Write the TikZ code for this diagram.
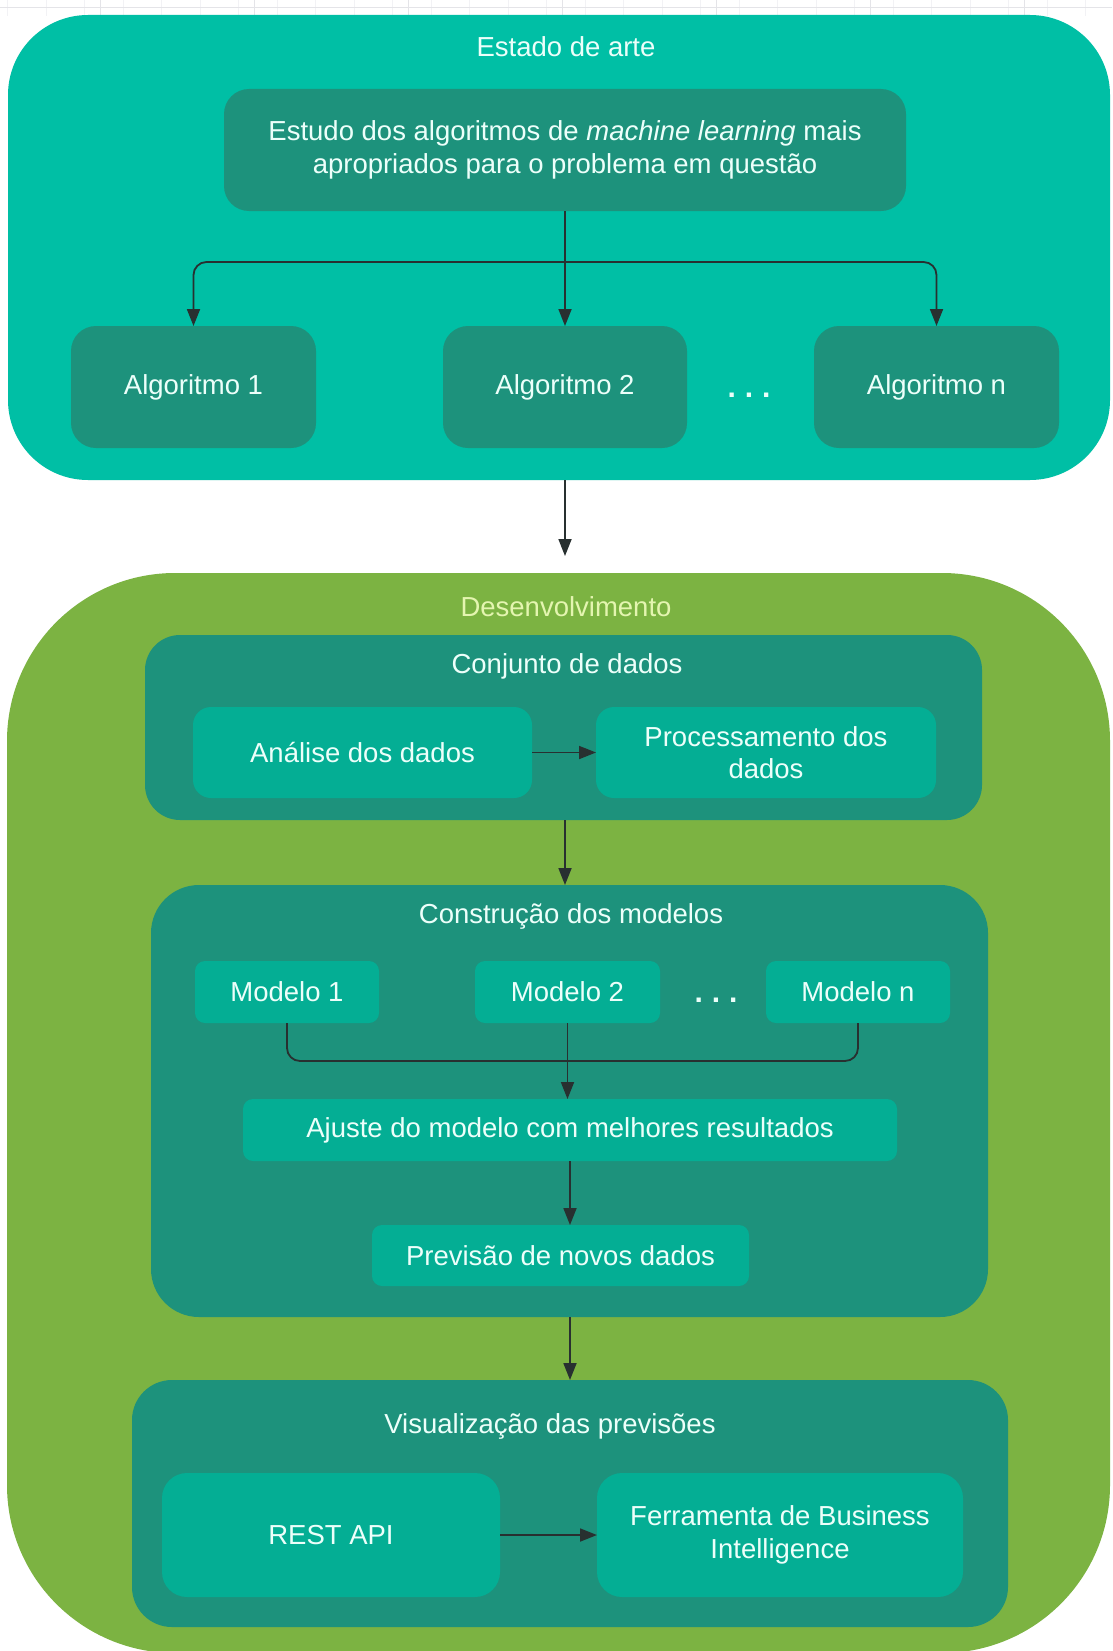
\documentclass[tikz,border=0pt]{standalone}
\usepackage{fontspec}
\setmainfont{Liberation Sans}
\usetikzlibrary{arrows.meta}

\definecolor{tealpanel}{RGB}{0,191,165}
\definecolor{greenpanel}{RGB}{124,179,66}
\definecolor{darkbox}{RGB}{29,146,124}
\definecolor{lightbox}{RGB}{4,174,148}
\definecolor{linkcol}{RGB}{40,48,48}
\definecolor{labelcol}{RGB}{236,255,250}
\definecolor{paleyellow}{RGB}{228,245,176}
\definecolor{gridmajor}{RGB}{228,228,232}
\definecolor{gridminor}{RGB}{242,242,245}

\begin{document}
\begin{tikzpicture}[x=1pt,y=-1pt,
  every node/.style={inner sep=0pt,outer sep=0pt},
  txt/.style={text=labelcol,font=\fontsize{27.5}{32.5}\selectfont,align=center},
  panel/.style={fill=#1},
  shelf/.style={fill=darkbox,txt},
  chip/.style={fill=lightbox,txt},
  heading/.style={txt},
  ellipsis/.style={text=labelcol,font=\fontsize{30}{30}\selectfont\bfseries},
  link/.style={draw=linkcol,line width=1.8pt},
  arr/.style={link,-{Triangle[length=17pt,width=13pt]}}
]
\useasboundingbox (0,0) rectangle (1112,1651);
\fill[white] (0,0) rectangle (1112,1651);

% faint canvas grid along the top edge
\foreach \gx in {7.5,46,84.5,...,1112}
  \draw[gridminor,line width=0.6pt] (\gx,0) -- (\gx,16);
\foreach \gx in {100,254,...,1112}
  \draw[gridmajor,line width=0.8pt] (\gx,0) -- (\gx,16);
\draw[gridmajor,line width=0.8pt] (0,7) -- (1112,7);

% ---------- Estado de arte ----------
\node[panel=tealpanel,rounded corners=80pt,minimum width=1102pt,minimum height=465pt] (outerA) at (559,247.5) {};
\node[heading] (titleA) at (566,47) {Estado de arte};
\node[shelf,rounded corners=25pt,minimum width=682pt,minimum height=122pt] (topbox) at (565,150)
  {Estudo dos algoritmos de \textit{machine learning} mais\\apropriados para o problema em questão};
\node[shelf,rounded corners=25pt,minimum width=245pt,minimum height=122pt] (alg1) at (193.5,387) {Algoritmo 1};
\node[shelf,rounded corners=25pt,minimum width=244pt,minimum height=122pt] (alg2) at (565,387) {Algoritmo 2};
\node[shelf,rounded corners=25pt,minimum width=245pt,minimum height=122pt] (algn) at (936.5,387) {Algoritmo n};
\node[ellipsis] (dotsA) at (749,395) {.\kern9pt.\kern9pt.};

\coordinate (split) at (565,262);
\draw[link] (topbox.south) -- (split);
\draw[arr] (split) -- (alg2.north);
\draw[arr,rounded corners=13pt] (split) -| (alg1.north);
\draw[arr,rounded corners=13pt] (split) -| (algn.north);

% ---------- Desenvolvimento ----------
\node[panel=greenpanel,rounded corners=168pt,minimum width=1103pt,minimum height=1080pt] (outerB) at (558.5,1113) {};
\node[heading,text=paleyellow] (titleB) at (566,607) {Desenvolvimento};

\draw[arr,shorten >=17pt] (outerA.south -| split) -- (outerB.north -| split);

% data set
\node[fill=darkbox,rounded corners=35pt,minimum width=837pt,minimum height=185pt] (conj) at (563.5,727.5) {};
\node[heading] (conjT) at (567,666) {Conjunto de dados};
\node[chip,rounded corners=18pt,minimum width=339pt,minimum height=91pt] (analise) at (362.5,752.5) {Análise dos dados};
\node[chip,rounded corners=18pt,minimum width=340pt,minimum height=91pt] (proc) at (766,752.5) {Processamento dos\\dados};
\draw[arr] (analise.east) -- (proc.west);

% model building
\node[fill=darkbox,rounded corners=48pt,minimum width=837pt,minimum height=432pt] (constr) at (569.5,1101) {};
\node[heading] (constrT) at (571,916) {Construção dos modelos};
\draw[arr] (conj.south -| 565,0) -- (constr.north -| 565,0);

\node[chip,rounded corners=10pt,minimum width=184pt,minimum height=62pt] (mod1) at (287,992) {Modelo 1};
\node[chip,rounded corners=10pt,minimum width=185pt,minimum height=62pt] (mod2) at (567.5,992) {Modelo 2};
\node[chip,rounded corners=10pt,minimum width=184pt,minimum height=62pt] (modn) at (858,992) {Modelo n};
\node[ellipsis] (dotsB) at (716,1000) {.\kern9pt.\kern9pt.};

\node[chip,rounded corners=10pt,minimum width=654pt,minimum height=62pt] (ajuste) at (570,1130) {Ajuste do modelo com melhores resultados};
\node[chip,rounded corners=10pt,minimum width=377pt,minimum height=61pt] (prev) at (560.5,1255.5) {Previsão de novos dados};

\coordinate (join) at (567.5,1061);
\draw[link,rounded corners=13pt] (mod1.south) |- (join);
\draw[link,rounded corners=13pt] (modn.south) |- (join);
\draw[arr] (mod2.south) -- (mod2.south |- ajuste.north);
\draw[arr] (ajuste.south) -- (ajuste.south |- prev.north);

% visualisation
\node[fill=darkbox,rounded corners=40pt,minimum width=876pt,minimum height=247pt] (vis) at (570,1503.5) {};
\node[heading] (visT) at (550,1426) {Visualização das previsões};
\draw[arr] (constr.south -| ajuste.south) -- (vis.north -| ajuste.south);

\node[chip,rounded corners=25pt,minimum width=338pt,minimum height=124pt] (rest) at (331,1535) {REST API};
\node[chip,rounded corners=25pt,minimum width=366pt,minimum height=124pt] (ferr) at (780,1535) {Ferramenta de Business\\Intelligence};
\draw[arr] (rest.east) -- (ferr.west);
\end{tikzpicture}
\end{document}
